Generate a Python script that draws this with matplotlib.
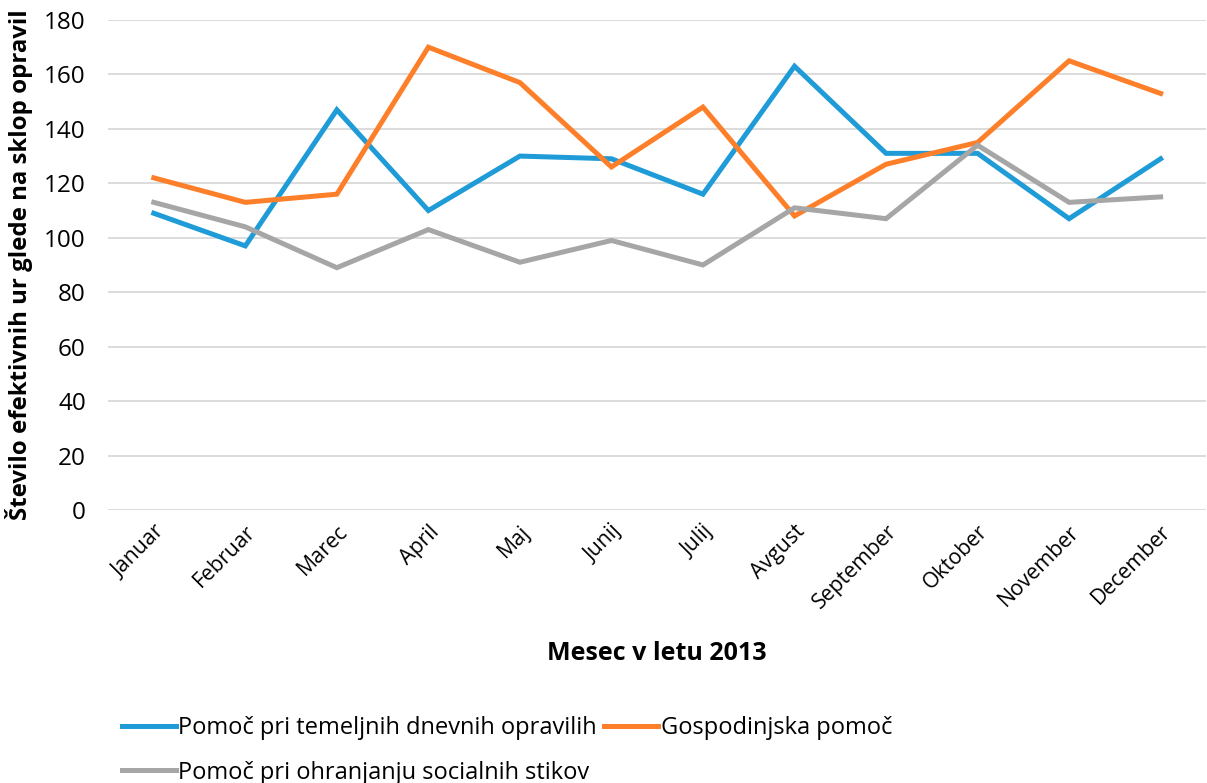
import matplotlib.pyplot as plt

plt.rcParams['font.family'] = ['Open Sans', 'DejaVu Sans']

months = ['Januar', 'Februar', 'Marec', 'April', 'Maj', 'Junij', 'Julij',
          'Avgust', 'September', 'Oktober', 'November', 'December']
temeljna = [109, 97, 147, 110, 130, 129, 116, 163, 131, 131, 107, 129]
gospodinjska = [122, 113, 116, 170, 157, 126, 148, 108, 127, 135, 165, 153]
socialni = [113, 104, 89, 103, 91, 99, 90, 111, 107, 134, 113, 115]

fig = plt.figure(figsize=(12.07, 7.83), dpi=100)
ax = fig.add_axes([0.0895, 0.3487, 0.91, 0.6258])

x = range(len(months))
l1, = ax.plot(x, temeljna, color='#1f9bd7', lw=3.6, solid_joinstyle='miter',
              label='Pomoč pri temeljnih dnevnih opravilih')
l2, = ax.plot(x, gospodinjska, color='#fe7f2a', lw=3.6, solid_joinstyle='miter',
              label='Gospodinjska pomoč')
l3, = ax.plot(x, socialni, color='#a6a6a6', lw=3.6, solid_joinstyle='miter',
              label='Pomoč pri ohranjanju socialnih stikov')

ax.set_ylim(0, 180)
ax.set_yticks(range(0, 181, 20))
ax.set_xlim(-0.5, len(months) - 0.5)
ax.set_xticks(list(x))
ax.set_xticklabels(months, rotation=45, ha='right', rotation_mode='anchor', fontsize=15.3)
ax.tick_params(axis='y', labelsize=17.5, length=0, pad=16)
ax.tick_params(axis='x', length=0, pad=8)
ax.grid(axis='y', color='#d9d9d9', lw=1.3)
ax.set_axisbelow(True)
for s in ax.spines.values():
    s.set_visible(False)

ax.set_ylabel('Število efektivnih ur glede na sklop opravil', fontsize=17.3,
              fontweight='bold', labelpad=8)
ax.set_xlabel('Mesec v letu 2013', fontsize=18, fontweight='bold', labelpad=20)

fig.legend(handles=[l1, l3, l2], ncol=2, loc='lower left',
           bbox_to_anchor=(0.093, -0.014), frameon=False, fontsize=17,
           handlelength=2.3, handletextpad=0.1, columnspacing=0.3,
           labelspacing=0.85, borderaxespad=0)

fig.savefig('out.png', dpi=100)
